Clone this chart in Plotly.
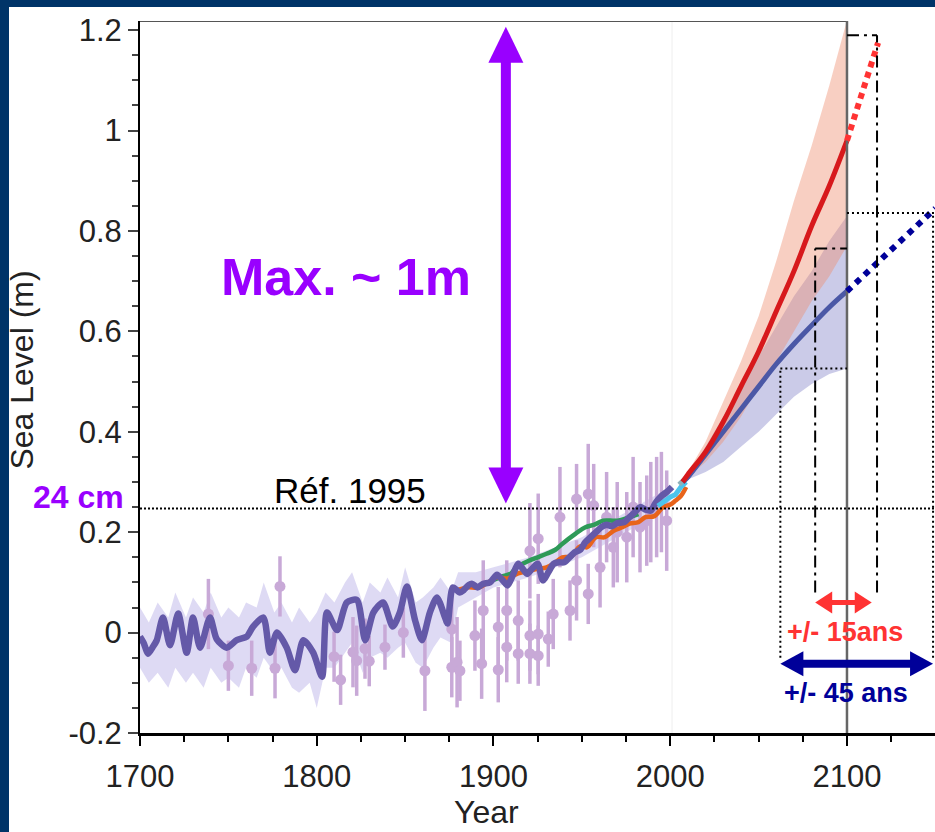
import plotly.graph_objects as go

# ---------------- data ----------------
REC_YEARS = [1700, 1702, 1704.6, 1707, 1709.4, 1713, 1717, 1721.6, 1726.4, 1730, 1734, 1739.6,
             1743.4, 1749, 1754.7, 1760.4, 1764, 1769.8, 1773.5, 1777.5, 1783, 1787.7, 1792.4,
             1798, 1803, 1805.8, 1811.5, 1817, 1822.7, 1827.4, 1832, 1837.5, 1843, 1847, 1851,
             1855.6, 1859.5, 1864, 1868, 1872.6, 1874, 1877, 1881, 1883, 1886, 1888, 1891, 1894,
             1898, 1902, 1905, 1908, 1911, 1914, 1917, 1919, 1922, 1925, 1928, 1931, 1934, 1937,
             1940, 1943, 1946, 1949, 1952, 1955, 1958, 1961, 1964, 1967, 1970, 1974, 1977, 1980,
             1983, 1986, 1989, 1992, 1995, 1998, 2001]
REC_VALUES = [-0.008, -0.02, -0.042, -0.03, -0.016, 0.03, -0.025, 0.038, -0.04, 0.03, -0.03, 0.03,
              -0.013, -0.03, -0.015, -0.008, 0.012, 0.03, -0.04, 0.0, -0.03, -0.075, -0.015,
              -0.04, -0.088, 0.04, 0.005, 0.06, 0.065, -0.015, 0.04, 0.06, 0.012, 0.04, 0.092,
              0.025, -0.015, 0.04, 0.07, 0.03, 0.018, 0.09, 0.08, 0.084, 0.095, 0.097, 0.09, 0.097,
              0.1, 0.115, 0.105, 0.094, 0.115, 0.137, 0.125, 0.117, 0.128, 0.137, 0.104, 0.12,
              0.137, 0.14, 0.14, 0.15, 0.16, 0.165, 0.18, 0.19, 0.2, 0.21, 0.215, 0.212, 0.218,
              0.22, 0.23, 0.24, 0.25, 0.245, 0.243, 0.26, 0.272, 0.28, 0.29]

BAND_YEARS = [1700, 1705, 1710, 1716, 1720, 1726, 1730, 1736, 1740, 1746, 1750, 1756, 1760, 1766,
              1770, 1776, 1780, 1786, 1790, 1796, 1800, 1805, 1810, 1816, 1820, 1826, 1830, 1836,
              1840, 1846, 1850, 1856, 1860, 1866, 1870, 1876, 1880, 1890, 1900, 1920, 1950, 1980, 2000]
BAND_UPPER = [0.05, 0.02, 0.06, 0.03, 0.08, 0.03, 0.07, 0.04, 0.08, 0.03, 0.05, 0.03, 0.06, 0.05,
              0.10, 0.04, 0.06, 0.02, 0.05, 0.02, 0.04, 0.08, 0.06, 0.10, 0.12, 0.06, 0.10, 0.08,
              0.11, 0.07, 0.13, 0.06, 0.07, 0.09, 0.11, 0.08, 0.12, 0.12, 0.13, 0.15, 0.19, 0.25, 0.29]
BAND_LOWER = [-0.07, -0.10, -0.08, -0.11, -0.07, -0.10, -0.08, -0.11, -0.07, -0.10, -0.09, -0.11, -0.07, -0.09,
              -0.05, -0.08, -0.07, -0.11, -0.12, -0.10, -0.15, -0.07, -0.07, -0.04, -0.02, -0.08, -0.05, -0.04,
              -0.05, -0.03, -0.02, -0.06, -0.07, -0.03, -0.01, -0.02, 0.05, 0.07, 0.09, 0.11, 0.15, 0.21, 0.26]

SM_YEARS = [1738.7, 1750, 1763.2, 1776.4, 1779.2, 1809.8, 1813.5, 1820.5, 1822.6, 1827.3, 1829.7,
            1838.6, 1849, 1861.2, 1876.4, 1876.4, 1879.4, 1881, 1889.5, 1893.3, 1894.2, 1902.7,
            1902.7, 1907.5, 1907.5, 1914, 1914, 1920.6, 1920.6, 1920.6, 1925.3, 1925.3, 1925.3,
            1931, 1933.8, 1937.6, 1943.3, 1947, 1947, 1953.6, 1953.6, 1956.7, 1960.3, 1964,
            1967.8, 1970, 1975.4, 1979, 1982.9, 1986.7, 1989, 1992.3, 1995, 1998]
SM_VALUES = [0.037, -0.066, -0.071, -0.071, 0.092, -0.048, -0.094, -0.039, -0.056, -0.032, -0.057,
             -0.029, 0.0, -0.076, 0.007, -0.069, -0.059, -0.076, -0.006, -0.062, 0.044, 0.011,
             -0.074, 0.044, -0.029, 0.024, -0.042, -0.006, -0.042, 0.163, 0.187, -0.003, -0.046,
             -0.013, 0.037, 0.23, 0.044, 0.266, 0.104, 0.276, 0.077, 0.253, 0.13, 0.23,
             0.17, 0.2, 0.19, 0.25, 0.21, 0.223, 0.24, 0.25, 0.26, 0.223]
SM_ERRORS = [0.07, 0.05, 0.055, 0.06, 0.06, 0.05, 0.05, 0.07, 0.07, 0.06, 0.05,
             0.045, 0.05, 0.08, 0.085, 0.06, 0.09, 0.06, 0.07, 0.07, 0.1, 0.08,
             0.065, 0.1, 0.07, 0.08, 0.06, 0.07, 0.06, 0.095, 0.09, 0.08, 0.06,
             0.055, 0.07, 0.1, 0.06, 0.07, 0.08, 0.1, 0.06, 0.083, 0.08, 0.09,
             0.08, 0.1, 0.09, 0.1, 0.09, 0.09, 0.1, 0.1, 0.1, 0.1]

GREEN_YEARS = [1900, 1905, 1910, 1913, 1920, 1925, 1930, 1935, 1939, 1946.5, 1952, 1957, 1962, 1970, 1977, 1982]
GREEN_VALUES = [0.105, 0.112, 0.118, 0.13, 0.143, 0.15, 0.157, 0.165, 0.177, 0.197, 0.21, 0.215, 0.223, 0.223, 0.23, 0.236]

ORANGE_YEARS = [1880, 1885, 1892, 1897, 1902, 1908, 1914, 1920, 1925, 1930, 1935, 1939, 1944, 1949,
                1953, 1958, 1963, 1968, 1973, 1977, 1982, 1986, 1991, 1996, 2000, 2003, 2006, 2009]
ORANGE_VALUES = [0.085, 0.09, 0.09, 0.1, 0.11, 0.108, 0.118, 0.123, 0.127, 0.13, 0.14, 0.15, 0.152, 0.172,
                 0.17, 0.19, 0.19, 0.203, 0.21, 0.217, 0.22, 0.23, 0.232, 0.25, 0.255, 0.263, 0.272, 0.29]

SAT_YEARS = [1993, 1996, 2000, 2003, 2006, 2009]
SAT_VALUES = [0.252, 0.26, 0.27, 0.275, 0.29, 0.3]
GREY_YEARS = [2005, 2008, 2011]
GREY_VALUES = [0.295, 0.305, 0.315]

PROJ_YEARS = [2007, 2010, 2020, 2030, 2040, 2050, 2060, 2070, 2080, 2090, 2100]
RED_MEDIAN = [0.30, 0.315, 0.36, 0.42, 0.49, 0.56, 0.64, 0.72, 0.81, 0.89, 0.98]
RED_UPPER = [0.30, 0.32, 0.38, 0.46, 0.54, 0.63, 0.74, 0.86, 0.97, 1.09, 1.22]
RED_LOWER = [0.30, 0.31, 0.34, 0.38, 0.43, 0.49, 0.54, 0.60, 0.66, 0.71, 0.77]
BLUE_MEDIAN = [0.30, 0.31, 0.355, 0.40, 0.445, 0.49, 0.535, 0.575, 0.612, 0.648, 0.68]
BLUE_UPPER = [0.30, 0.315, 0.37, 0.43, 0.49, 0.55, 0.61, 0.67, 0.72, 0.78, 0.83]
BLUE_LOWER = [0.30, 0.305, 0.32, 0.34, 0.37, 0.40, 0.435, 0.47, 0.495, 0.515, 0.526]

X_TICKS = [1700, 1800, 1900, 2000, 2100]
X_TICK_LABELS = ["1700", "1800", "1900", "2000", "2100"]
Y_TICKS = [-0.2, 0, 0.2, 0.4, 0.6, 0.8, 1, 1.2]
Y_TICK_LABELS = ["-0.2", "0", "0.2", "0.4", "0.6", "0.8", "1", "1.2"]

# annotation anchors (data units)
REF_LEVEL = 0.247
RED_EXT = (2117.6, 1.175)
BLUE_EXT = (2150, 0.845)
RED_WIN = (2082, 2117)
BLUE_WIN = (2062.3, 2148.7)

# ---------------- layout geometry ----------------
W, H = 935, 832
ML, MR, MT, MB = 140, 0, 21, 99
X_RANGE = [1700, 2149.8]
Y_RANGE = [-0.2, 1.2183]
PW, PH = W - ML - MR, H - MT - MB
PX_YR = PW / (X_RANGE[1] - X_RANGE[0])
PX_M = PH / (Y_RANGE[1] - Y_RANGE[0])


def dx(px):
    return px / PX_YR


def dy(px):
    return px / PX_M


FONT = "Liberation Sans, Arial, sans-serif"
PURPLE = "#9900ff"
NAVY = "#000099"
RED_TXT = "#ff3333"
MARSH = "#c8a9d7"
FRAME = "#003468"

fig = go.Figure()

# uncertainty band of reconstruction
fig.add_trace(go.Scatter(x=BAND_YEARS, y=BAND_LOWER, mode="lines", line=dict(width=0),
                         showlegend=False, hoverinfo="skip"))
fig.add_trace(go.Scatter(x=BAND_YEARS, y=BAND_UPPER, mode="lines", line=dict(width=0),
                         fill="tonexty", fillcolor="rgba(200,194,236,0.6)", showlegend=False,
                         hoverinfo="skip"))
# salt-marsh points
fig.add_trace(go.Scatter(x=SM_YEARS, y=SM_VALUES, mode="markers",
                         marker=dict(size=11, color=MARSH),
                         error_y=dict(type="data", array=SM_ERRORS, color=MARSH,
                                      thickness=3.5, width=0),
                         showlegend=False))
# projection bands
fig.add_trace(go.Scatter(x=PROJ_YEARS, y=BLUE_LOWER, mode="lines", line=dict(width=0),
                         showlegend=False, hoverinfo="skip"))
fig.add_trace(go.Scatter(x=PROJ_YEARS, y=BLUE_UPPER, mode="lines", line=dict(width=0),
                         fill="tonexty", fillcolor="rgba(140,140,205,0.45)", showlegend=False,
                         hoverinfo="skip"))
fig.add_trace(go.Scatter(x=PROJ_YEARS, y=RED_LOWER, mode="lines", line=dict(width=0),
                         showlegend=False, hoverinfo="skip"))
fig.add_trace(go.Scatter(x=PROJ_YEARS, y=RED_UPPER, mode="lines", line=dict(width=0),
                         fill="tonexty", fillcolor="rgba(238,140,110,0.42)", showlegend=False,
                         hoverinfo="skip"))
# observation lines
fig.add_trace(go.Scatter(x=GREEN_YEARS, y=GREEN_VALUES, mode="lines", line_shape="spline",
                         line=dict(color="#2e9a58", width=4.5), showlegend=False))
fig.add_trace(go.Scatter(x=ORANGE_YEARS, y=ORANGE_VALUES, mode="lines", line_shape="spline",
                         line=dict(color="#e8641b", width=4.5), showlegend=False))
fig.add_trace(go.Scatter(x=REC_YEARS, y=REC_VALUES, mode="lines", line_shape="spline",
                         line=dict(color="#6459a8", width=6.5, smoothing=0.7), showlegend=False))
fig.add_trace(go.Scatter(x=SAT_YEARS, y=SAT_VALUES, mode="lines",
                         line=dict(color="#4cc4ec", width=5), showlegend=False))
fig.add_trace(go.Scatter(x=GREY_YEARS, y=GREY_VALUES, mode="lines",
                         line=dict(color="#8fb0b8", width=5), showlegend=False))
# projection medians
fig.add_trace(go.Scatter(x=PROJ_YEARS, y=BLUE_MEDIAN, mode="lines", line_shape="spline",
                         line=dict(color="#4b58a6", width=5), showlegend=False))
fig.add_trace(go.Scatter(x=PROJ_YEARS, y=RED_MEDIAN, mode="lines", line_shape="spline",
                         line=dict(color="#d7191c", width=5), showlegend=False))

shapes = []
# navy frame strips (top and left)
shapes.append(dict(type="rect", xref="paper", yref="paper",
                   x0=-ML / PW - 0.02, x1=1.02, y0=1 + (MT - 7) / PH, y1=1 + MT / PH + 0.02,
                   fillcolor=FRAME, line=dict(width=0), layer="below"))
shapes.append(dict(type="rect", xref="paper", yref="paper",
                   x0=-ML / PW - 0.02, x1=(9 - ML) / PW, y0=-MB / PH - 0.02, y1=1 + MT / PH + 0.02,
                   fillcolor=FRAME, line=dict(width=0), layer="below"))
# faint separator
shapes.append(dict(type="line", x0=2001, x1=2001, y0=Y_RANGE[0], y1=Y_RANGE[1],
                   line=dict(color="#eeeeee", width=1), layer="below"))
# box top and right
shapes.append(dict(type="line", x0=X_RANGE[0], x1=2100, y0=Y_RANGE[1], y1=Y_RANGE[1],
                   line=dict(color="#555555", width=2)))
shapes.append(dict(type="line", x0=2100, x1=2100, y0=Y_RANGE[0], y1=Y_RANGE[1],
                   line=dict(color="#666666", width=2.5)))
# reference 1995 line
shapes.append(dict(type="line", x0=X_RANGE[0], x1=X_RANGE[1], y0=REF_LEVEL, y1=REF_LEVEL,
                   line=dict(color="black", width=2, dash="2px,2px")))
# dotted extensions
shapes.append(dict(type="line", x0=PROJ_YEARS[-1], y0=RED_MEDIAN[-1], x1=RED_EXT[0], y1=RED_EXT[1],
                   line=dict(color=RED_TXT, width=6, dash="6px,5px")))
shapes.append(dict(type="line", x0=PROJ_YEARS[-1], y0=BLUE_MEDIAN[-1], x1=BLUE_EXT[0], y1=BLUE_EXT[1],
                   line=dict(color=NAVY, width=6, dash="6px,6px")))
# dash-dot window (red, +/- 15 ans)
DD = dict(color="black", width=2, dash="12px,5px,3px,5px")
red_low_top = 0.765
red_high_top = 1.19
win_bottom = 0.08
shapes.append(dict(type="line", x0=RED_WIN[0], x1=RED_WIN[0], y0=win_bottom, y1=red_low_top, line=DD))
shapes.append(dict(type="line", x0=RED_WIN[0], x1=2100, y0=red_low_top, y1=red_low_top, line=DD))
shapes.append(dict(type="line", x0=RED_WIN[1], x1=RED_WIN[1], y0=win_bottom, y1=red_high_top, line=DD))
shapes.append(dict(type="line", x0=2100, x1=RED_WIN[1], y0=red_high_top, y1=red_high_top, line=DD))
# dotted window (blue, +/- 45 ans)
DT = dict(color="black", width=2, dash="2px,3px")
blue_low_top = BLUE_LOWER[-1]
blue_high_top = 0.836
bwin_bottom = -0.05
shapes.append(dict(type="line", x0=BLUE_WIN[0], x1=BLUE_WIN[0], y0=bwin_bottom, y1=blue_low_top, line=DT))
shapes.append(dict(type="line", x0=BLUE_WIN[0], x1=2100, y0=blue_low_top, y1=blue_low_top, line=DT))
shapes.append(dict(type="line", x0=BLUE_WIN[1], x1=BLUE_WIN[1], y0=bwin_bottom, y1=blue_high_top, line=DT))
shapes.append(dict(type="line", x0=2100, x1=X_RANGE[1], y0=blue_high_top, y1=blue_high_top, line=DT))


def v_double_arrow(x, y_bot, y_top, color, shaft, head_len, head_half):
    out = [dict(type="line", x0=x, x1=x, y0=y_bot + dy(head_len - 2), y1=y_top - dy(head_len - 2),
                line=dict(color=color, width=shaft))]
    out.append(dict(type="path", fillcolor=color, line=dict(width=0),
                    path=f"M {x - dx(head_half)},{y_top - dy(head_len)} L {x},{y_top} "
                         f"L {x + dx(head_half)},{y_top - dy(head_len)} Z"))
    out.append(dict(type="path", fillcolor=color, line=dict(width=0),
                    path=f"M {x - dx(head_half)},{y_bot + dy(head_len)} L {x},{y_bot} "
                         f"L {x + dx(head_half)},{y_bot + dy(head_len)} Z"))
    return out


def h_double_arrow(y, x_left, x_right, color, shaft, head_len, head_half):
    out = [dict(type="line", y0=y, y1=y, x0=x_left + dx(head_len - 2), x1=x_right - dx(head_len - 2),
                line=dict(color=color, width=shaft))]
    out.append(dict(type="path", fillcolor=color, line=dict(width=0),
                    path=f"M {x_right - dx(head_len)},{y - dy(head_half)} L {x_right},{y} "
                         f"L {x_right - dx(head_len)},{y + dy(head_half)} Z"))
    out.append(dict(type="path", fillcolor=color, line=dict(width=0),
                    path=f"M {x_left + dx(head_len)},{y - dy(head_half)} L {x_left},{y} "
                         f"L {x_left + dx(head_len)},{y + dy(head_half)} Z"))
    return out


shapes += v_double_arrow(1907, 0.257, 1.207, PURPLE, 10, 36, 17.5)
shapes += h_double_arrow(0.06, 2082, 2114, RED_TXT, 5, 17, 11)
shapes += h_double_arrow(-0.062, BLUE_WIN[0], BLUE_WIN[1], NAVY, 8, 23, 12.5)

annotations = [
    dict(x=1816.5, y=0.709, text="<b>Max. ~ 1m</b>", showarrow=False,
         font=dict(family=FONT, size=52, color=PURPLE), xanchor="center", yanchor="middle"),
    dict(x=1818.8, y=0.283, text="Réf. 1995", showarrow=False,
         font=dict(family=FONT, size=35, color="black"), xanchor="center", yanchor="middle"),
    dict(xref="paper", x=(78 - ML) / PW, y=0.27, text="<b>24 cm</b>", showarrow=False,
         font=dict(family=FONT, size=32, color=PURPLE), xanchor="center", yanchor="middle"),
    dict(x=2099, y=0.002, text="<b>+/- 15ans</b>", showarrow=False,
         font=dict(family=FONT, size=27, color=RED_TXT), xanchor="center", yanchor="middle"),
    dict(x=2099.4, y=-0.12, text="<b>+/- 45 ans</b>", showarrow=False,
         font=dict(family=FONT, size=27, color=NAVY), xanchor="center", yanchor="middle"),
    dict(x=1896.3, yref="paper", y=-(812 - (MT + PH)) / PH, text="Year", showarrow=False,
         font=dict(family=FONT, size=32, color="#222222"), xanchor="center", yanchor="middle"),
    dict(xref="paper", x=(22 - ML) / PW, y=0.522, text="Sea Level (m)", showarrow=False,
         textangle=-90, font=dict(family=FONT, size=32, color="#222222"),
         xanchor="center", yanchor="middle"),
]

fig.update_layout(
    width=W, height=H, margin=dict(l=ML, r=MR, t=MT, b=MB, pad=0),
    paper_bgcolor="white", plot_bgcolor="rgba(0,0,0,0)",
    shapes=shapes, annotations=annotations, showlegend=False,
    font=dict(family=FONT, color="#222222"),
)
fig.update_xaxes(range=X_RANGE, showgrid=False, zeroline=False, showline=True,
                 linecolor="black", linewidth=3, ticks="outside", ticklen=10, tickwidth=2,
                 tickcolor="black", tickvals=X_TICKS, ticktext=X_TICK_LABELS,
                 ticklabelstandoff=4,
                 tickfont=dict(family=FONT, size=31, color="#222222"),
                 minor=dict(dtick=25, tick0=1700, ticks="outside", ticklen=6, tickcolor="black",
                            tickwidth=1.5))
fig.update_yaxes(range=Y_RANGE, showgrid=False, zeroline=False, showline=True,
                 linecolor="black", linewidth=2, ticks="outside", ticklen=10, tickwidth=2,
                 tickcolor="#444444", tickvals=Y_TICKS, ticktext=Y_TICK_LABELS,
                 tickfont=dict(family=FONT, size=31, color="#222222"),
                 minor=dict(dtick=0.05, tick0=0, ticks="outside", ticklen=6, tickcolor="#444444",
                            tickwidth=1.5))

fig.write_html("out.html", config={"displayModeBar": False},
               post_script="document.body.style.margin='0px';document.body.style.overflow='hidden';")
